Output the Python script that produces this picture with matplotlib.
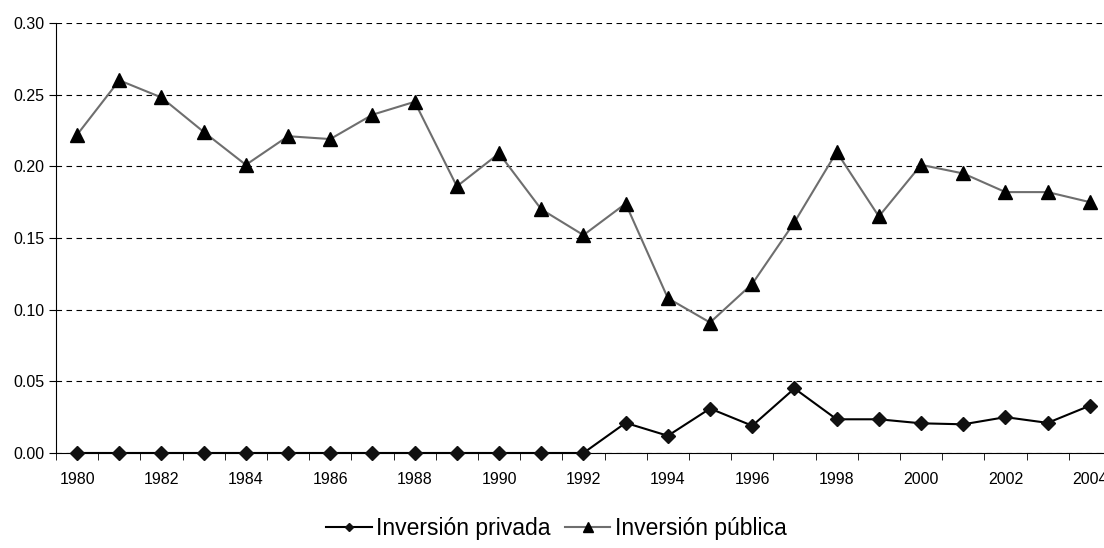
import matplotlib
matplotlib.use("Agg")
from matplotlib import pyplot as plt
import numpy as np

plt.rcParams['font.family'] = ['Liberation Sans', 'DejaVu Sans']

years = list(range(1980, 2005))
privada = [0, 0, 0, 0, 0, 0, 0, 0, 0, 0, 0, 0, 0,
           0.021, 0.012, 0.031, 0.019, 0.045, 0.0235, 0.0235, 0.0207, 0.020, 0.025, 0.021, 0.033]
publica = [0.222, 0.260, 0.248, 0.224, 0.201, 0.221, 0.219, 0.236, 0.245, 0.186, 0.209, 0.170,
           0.152, 0.174, 0.108, 0.091, 0.118, 0.161, 0.210, 0.165, 0.201, 0.195, 0.182, 0.182, 0.175]
y_ticks = [0.00, 0.05, 0.10, 0.15, 0.20, 0.25, 0.30]

fig = plt.figure(figsize=(11.04, 5.48), dpi=100)
ax = fig.add_axes([0.0507, 0.1734, 0.9556, 0.7847])

x = np.arange(len(years))
ax.plot(x, privada, color="black", lw=1.5, marker="D", ms=6.8, mfc="#111111", mec="#111111",
        label="Inversión privada", zorder=4, clip_on=False)
ax.plot(x, publica, color="#6e6e6e", lw=1.5, marker="^", ms=10, mfc="black", mec="black",
        label="Inversión pública", zorder=4, clip_on=False)

ax.set_xlim(-0.5, len(years) - 0.5)
ax.set_ylim(0, 0.30)
ax.set_yticks(y_ticks)
ax.set_yticklabels(["%.2f" % v for v in y_ticks], fontsize=11.5)
ax.yaxis.grid(True, color="black", ls=(0, (5, 4)), lw=0.8)
ax.set_axisbelow(True)

ax.set_xticks(x[::2])
ax.set_xticklabels([str(y) for y in years[::2]], fontsize=11.5)
ax.set_xticks(np.arange(-0.5, len(years)), minor=True)
ax.tick_params(axis="x", which="major", length=0, pad=14)
ax.tick_params(axis="x", which="minor", length=5, direction="out", color="black")
ax.tick_params(axis="y", length=5, direction="out", pad=3)

for s in ["top", "right"]:
    ax.spines[s].set_visible(False)
ax.spines["left"].set_color("black")
ax.spines["bottom"].set_color("black")

fig.legend(loc="center", bbox_to_anchor=(0.504, 0.036), ncol=2, frameon=False,
           fontsize=16.5, handlelength=2.0, handletextpad=0.2, columnspacing=0.6,
           markerscale=0.65)

plt.savefig("out.png", dpi=100)
